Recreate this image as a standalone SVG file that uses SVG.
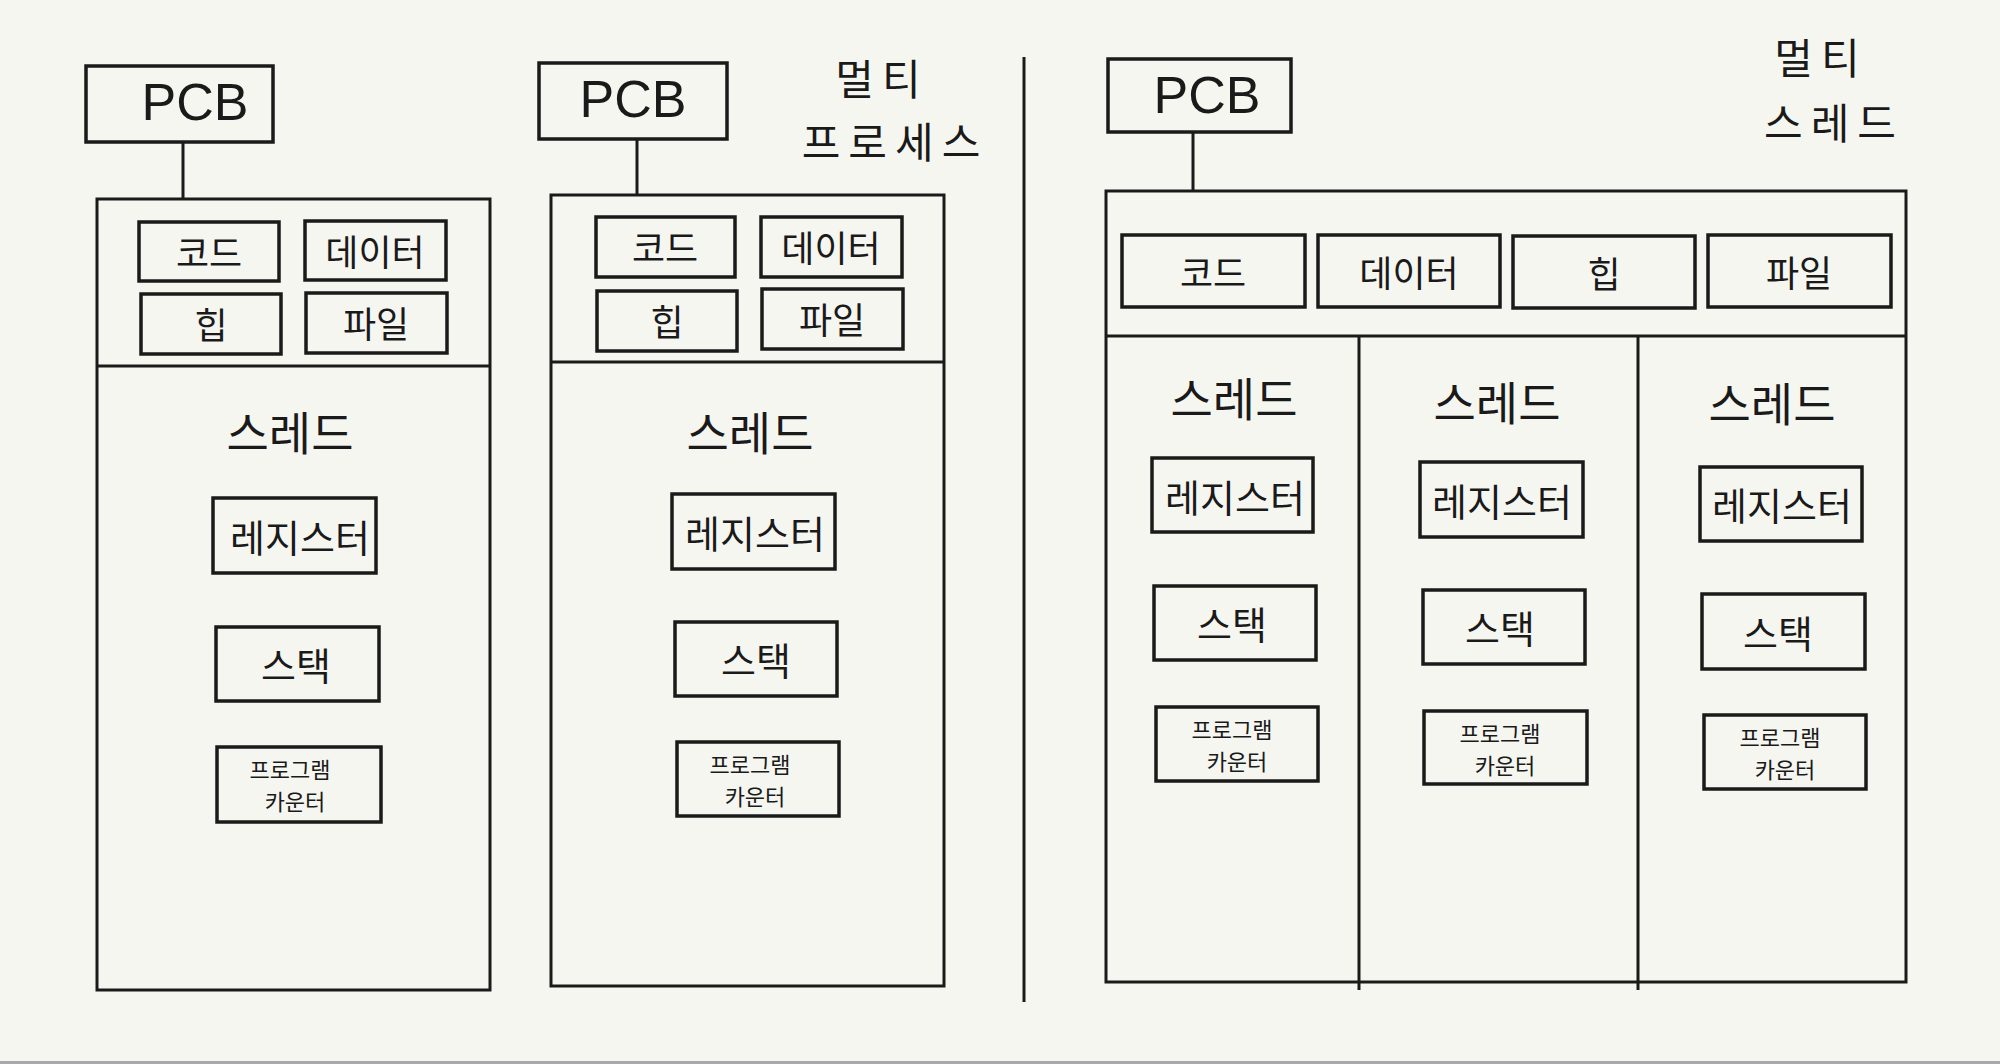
<svg xmlns="http://www.w3.org/2000/svg" width="2000" height="1064" viewBox="0 0 2000 1064">
<style>
.bg{fill:#f6f6f1}
.box{fill:none;stroke:#1a1a1a;stroke-width:3.5}
.outer{fill:none;stroke:#1a1a1a;stroke-width:3}
.ln{stroke:#1a1a1a;stroke-width:3;fill:none}
text{font-family:"Noto Sans CJK KR","Noto Sans",sans-serif;fill:#1a1a1a;text-anchor:middle;dominant-baseline:central}
.pcb{font-family:"Liberation Sans","Noto Sans",sans-serif;font-size:52px;font-weight:300}
.seg{font-size:36px}
.thr{font-size:46px}
.item{font-size:38px}
.pc{font-size:22px}
.title{font-size:42px;letter-spacing:8px}
</style>
<rect class="bg" x="0" y="0" width="2000" height="1064"/>
<rect x="0" y="1061" width="2000" height="3" fill="#a8a8a8"/>

<g id="connectors">
<line class="ln" x1="183" y1="142" x2="183" y2="199"/>
<line class="ln" x1="637" y1="139" x2="637" y2="195"/>
<line class="ln" x1="1193" y1="132" x2="1193" y2="191"/>
<line class="ln" x1="1024" y1="57" x2="1024" y2="1002"/>
</g>

<g id="title-multiprocess">
<text class="title" x="882" y="76">멀티</text>
<text class="title" x="895" y="139">프로세스</text>
</g>
<g id="title-multithread">
<text class="title" x="1821" y="55">멀티</text>
<text class="title" x="1834" y="120">스레드</text>
</g>

<!-- Process 1 -->
<g id="p1-pcb"><rect class="box" x="86" y="66" width="187" height="76"/><text class="pcb" x="195" y="102">PCB</text></g>
<g id="p1-process">
<rect class="outer" x="97" y="199" width="393" height="791"/>
<line class="ln" x1="97" y1="366" x2="490" y2="366"/>
</g>
<g id="p1-code"><rect class="box" x="139" y="222" width="140" height="59"/><text class="seg" x="209" y="251">코드</text></g>
<g id="p1-data"><rect class="box" x="305" y="221" width="141" height="59"/><text class="seg" x="375" y="250">데이터</text></g>
<g id="p1-heap"><rect class="box" x="141" y="294" width="140" height="60"/><text class="seg" x="211" y="323">힙</text></g>
<g id="p1-file"><rect class="box" x="306" y="293" width="141" height="60"/><text class="seg" x="376" y="322">파일</text></g>
<g id="p1-thread"><text class="thr" x="290" y="430">스레드</text></g>
<g id="p1-register"><rect class="box" x="213" y="498" width="163" height="75"/><text class="item" x="300" y="535">레지스터</text></g>
<g id="p1-stack"><rect class="box" x="216" y="627" width="163" height="74"/><text class="item" x="296" y="663">스택</text></g>
<g id="p1-pc"><rect class="box" x="217" y="747" width="164" height="75"/><text class="pc" x="290" y="768">프로그램</text><text class="pc" x="295" y="800">카운터</text></g>

<!-- Process 2 -->
<g id="p2-pcb"><rect class="box" x="539" y="63" width="188" height="76"/><text class="pcb" x="633" y="99">PCB</text></g>
<g id="p2-process">
<rect class="outer" x="551" y="195" width="393" height="791"/>
<line class="ln" x1="551" y1="362" x2="944" y2="362"/>
</g>
<g id="p2-code"><rect class="box" x="596" y="217" width="139" height="60"/><text class="seg" x="665" y="246">코드</text></g>
<g id="p2-data"><rect class="box" x="761" y="217" width="141" height="60"/><text class="seg" x="831" y="246">데이터</text></g>
<g id="p2-heap"><rect class="box" x="597" y="291" width="140" height="60"/><text class="seg" x="667" y="320">힙</text></g>
<g id="p2-file"><rect class="box" x="762" y="289" width="141" height="60"/><text class="seg" x="832" y="318">파일</text></g>
<g id="p2-thread"><text class="thr" x="750" y="430">스레드</text></g>
<g id="p2-register"><rect class="box" x="672" y="494" width="163" height="75"/><text class="item" x="755" y="531">레지스터</text></g>
<g id="p2-stack"><rect class="box" x="675" y="622" width="162" height="74"/><text class="item" x="756" y="658">스택</text></g>
<g id="p2-pc"><rect class="box" x="677" y="742" width="162" height="74"/><text class="pc" x="750" y="763">프로그램</text><text class="pc" x="755" y="795">카운터</text></g>

<!-- Multithread process -->
<g id="p3-pcb"><rect class="box" x="1108" y="59" width="183" height="73"/><text class="pcb" x="1207" y="95">PCB</text></g>
<g id="p3-process">
<rect class="outer" x="1106" y="191" width="800" height="791"/>
<line class="ln" x1="1106" y1="336" x2="1906" y2="336"/>
<line class="ln" x1="1359" y1="336" x2="1359" y2="990"/>
<line class="ln" x1="1638" y1="336" x2="1638" y2="990"/>
</g>
<g id="p3-code"><rect class="box" x="1122" y="235" width="183" height="72"/><text class="seg" x="1213" y="271">코드</text></g>
<g id="p3-data"><rect class="box" x="1318" y="235" width="182" height="72"/><text class="seg" x="1409" y="271">데이터</text></g>
<g id="p3-heap"><rect class="box" x="1513" y="236" width="182" height="72"/><text class="seg" x="1604" y="272">힙</text></g>
<g id="p3-file"><rect class="box" x="1708" y="235" width="183" height="72"/><text class="seg" x="1799" y="271">파일</text></g>

<g id="t1-thread"><text class="thr" x="1234" y="396">스레드</text></g>
<g id="t1-register"><rect class="box" x="1152" y="458" width="161" height="74"/><text class="item" x="1235" y="495">레지스터</text></g>
<g id="t1-stack"><rect class="box" x="1154" y="586" width="162" height="74"/><text class="item" x="1232" y="622">스택</text></g>
<g id="t1-pc"><rect class="box" x="1156" y="707" width="162" height="74"/><text class="pc" x="1232" y="728">프로그램</text><text class="pc" x="1237" y="760">카운터</text></g>

<g id="t2-thread"><text class="thr" x="1497" y="400">스레드</text></g>
<g id="t2-register"><rect class="box" x="1420" y="462" width="163" height="75"/><text class="item" x="1502" y="499">레지스터</text></g>
<g id="t2-stack"><rect class="box" x="1423" y="590" width="162" height="74"/><text class="item" x="1500" y="626">스택</text></g>
<g id="t2-pc"><rect class="box" x="1424" y="711" width="163" height="73"/><text class="pc" x="1500" y="732">프로그램</text><text class="pc" x="1505" y="764">카운터</text></g>

<g id="t3-thread"><text class="thr" x="1772" y="401">스레드</text></g>
<g id="t3-register"><rect class="box" x="1700" y="467" width="162" height="74"/><text class="item" x="1782" y="503">레지스터</text></g>
<g id="t3-stack"><rect class="box" x="1702" y="594" width="163" height="75"/><text class="item" x="1778" y="631">스택</text></g>
<g id="t3-pc"><rect class="box" x="1704" y="715" width="162" height="74"/><text class="pc" x="1780" y="736">프로그램</text><text class="pc" x="1785" y="768">카운터</text></g>
</svg>
